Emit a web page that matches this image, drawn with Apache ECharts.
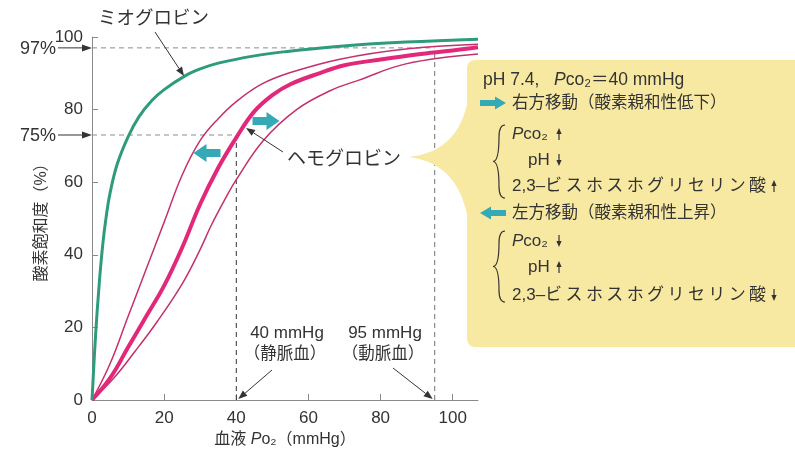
<!DOCTYPE html>
<html><head><meta charset="utf-8">
<script src="https://cdn.jsdelivr.net/npm/echarts@6/dist/echarts.min.js"></script>
<style>html,body{margin:0;padding:0;background:#fff}#c{width:795px;height:459px}</style>
</head><body><div id="c"></div>
<script>
// ---- data ----
const xTicks = [0, 20, 40, 60, 80, 100];
const yTicks = [0, 20, 40, 60, 80, 100];
const myoglobinPO2 = [0, 1, 2, 3, 4, 5, 7, 10, 13, 16.6, 20, 25.8, 30, 35, 45, 53, 68, 87, 107];
const myoglobinSat = [0, 18, 32, 43, 51, 57, 65, 72.5, 78, 82.5, 85.5, 89.3, 91.2, 92.8, 94.8, 95.9, 97.4, 98.6, 99.4];
const hemoglobinPO2 = [0, 5, 10, 15, 20, 25, 30, 35, 40, 45, 50, 55, 63, 70, 80, 90, 100, 107];
const hemoglobinSat = [0, 6, 14.5, 23, 31.5, 42, 54, 64, 72.3, 79.5, 84, 87, 90, 92.2, 93.8, 95.2, 96.3, 97.2];
const leftShiftPO2 = [0, 5, 10, 15, 20, 25, 30, 35, 40, 47, 55, 68.7, 87, 107];
const leftShiftSat = [0, 10, 23, 36, 49, 62, 71.5, 77.5, 82.2, 87, 90.2, 93.9, 96.7, 98];
const rightShiftPO2 = [0, 6, 12, 18, 25, 30, 33, 36.8, 40, 47.5, 56.7, 66, 74.2, 87, 107];
const rightShiftSat = [0, 6, 13.5, 21.5, 32, 41.5, 48, 55.2, 60.7, 71.5, 80, 85.2, 88.2, 92.6, 95.3];
const venous = { po2: 40, sat: 73, label: '75%', text1: '40 mmHg', text2: '（静脈血）' };
const arterial = { po2: 95, sat: 97, label: '97%', text1: '95 mmHg', text2: '（動脈血）' };
const xMax = 107;

const FONT = "'Liberation Sans','Noto Sans CJK JP',sans-serif";
const TXT = '#333';
const zip = (a, b) => a.map((v, i) => [v, b[i]]);

const chart = echarts.init(document.getElementById('c'));
const lineSeries = (name, xs, ys, color, width) => ({
  name, type: 'line', data: zip(xs, ys), symbol: 'none', smooth: 0.4,
  lineStyle: { color, width }, z: 3, silent: true
});
const refSeries = (pts, color) => ({
  type: 'line', data: pts, symbol: 'none', silent: true, z: 2,
  lineStyle: { color, width: 1, type: [5, 4] }
});

chart.setOption({
  animation: false,
  grid: { left: 92, right: 317, top: 37, bottom: 59 },
  xAxis: {
    type: 'value', min: 0, max: xMax, interval: 20,
    axisLine: { lineStyle: { color: '#8a8a8a', width: 1 } },
    axisTick: { show: true, inside: true, length: 6, customValues: xTicks, lineStyle: { color: '#8a8a8a' } },
    axisLabel: { customValues: xTicks, color: TXT, fontSize: 17, fontFamily: FONT, margin: 10 },
    splitLine: { show: false },
    name: '血液 {i|P}o₂（mmHg）', nameLocation: 'middle', nameGap: 31,
    nameTextStyle: { fontSize: 16, color: TXT, fontFamily: FONT,
      rich: { i: { fontStyle: 'italic', fontSize: 16, color: TXT, fontFamily: FONT } } }
  },
  yAxis: {
    type: 'value', min: 0, max: 100, interval: 20,
    axisLine: { show: true, lineStyle: { color: '#8a8a8a', width: 1 } },
    axisTick: { show: true, inside: true, length: 6, lineStyle: { color: '#8a8a8a' } },
    axisLabel: { color: TXT, fontSize: 17, fontFamily: FONT, margin: 9 },
    splitLine: { show: false },
    name: '酸素飽和度（%）', nameLocation: 'middle', nameGap: 42, nameRotate: 90,
    nameTextStyle: { fontSize: 16, color: TXT, fontFamily: FONT }
  },
  series: [
    refSeries([[0, arterial.sat], [arterial.po2, arterial.sat]], '#8c8c8c'),
    refSeries([[arterial.po2, 0], [arterial.po2, arterial.sat - 0.5]], '#707070'),
    refSeries([[0, venous.sat], [venous.po2, venous.sat]], '#8c8c8c'),
    refSeries([[venous.po2, 0], [venous.po2, venous.sat]], '#333'),
    lineSeries('右方移動', rightShiftPO2, rightShiftSat, '#c4306e', 1.5),
    lineSeries('左方移動', leftShiftPO2, leftShiftSat, '#c4306e', 1.5),
    lineSeries('ヘモグロビン', hemoglobinPO2, hemoglobinSat, '#e2287a', 4),
    lineSeries('ミオグロビン', myoglobinPO2, myoglobinSat, '#2e9c7c', 3)
  ]
});

// ---- annotations ----
const P = (x, y) => chart.convertToPixel({ gridIndex: 0 }, [x, y]);
const CYAN = '#35a9b5';
const G = [];
function arrowLine(x1, y1, x2, y2, color = '#333', w = 1, hl = 9, hw = 3.5) {
  const dx = x2 - x1, dy = y2 - y1, L = Math.hypot(dx, dy), ux = dx / L, uy = dy / L;
  const bx = x2 - ux * hl, by = y2 - uy * hl;
  G.push({ type: 'line', z: 20, shape: { x1, y1, x2: bx, y2: by }, style: { stroke: color, lineWidth: w } });
  G.push({ type: 'polygon', z: 20, shape: { points: [[x2, y2], [bx - uy * hw, by + ux * hw], [bx + uy * hw, by - ux * hw]] }, style: { fill: color } });
}
function blockArrow(cx, cy, dir, len, sw, hw, hl) {
  const tail = cx - dir * len / 2, tip = cx + dir * len / 2, base = tip - dir * hl;
  G.push({ type: 'polygon', z: 20, shape: { points: [
    [tail, cy - sw / 2], [base, cy - sw / 2], [base, cy - hw / 2], [tip, cy],
    [base, cy + hw / 2], [base, cy + sw / 2], [tail, cy + sw / 2]] }, style: { fill: CYAN } });
}
function text(x, y, t, opts = {}) {
  G.push({ type: 'text', z: 25, x, y, style: Object.assign({
    text: t, fontSize: 17, fontFamily: FONT, fill: TXT, align: 'left', verticalAlign: 'middle',
    rich: {
      i: { fontStyle: 'italic', fontSize: opts.fontSize || 17, fontFamily: FONT, fill: TXT }
    } }, opts) });
}
// small vertical arrow (up: dir=-1, down: dir=1)
function smallArrow(x, yc, dir) {
  const y1 = yc - dir * 6, y2 = yc + dir * 6;
  arrowLine(x, y1, x, y2, TXT, 1.2, 6, 2.6);
}

// y-level markers
const y97 = P(0, arterial.sat)[1], y75 = P(0, venous.sat)[1], x0 = P(0, 0)[0];
text(56, y97 + 1, arterial.label, { align: 'right', fontSize: 18 });
arrowLine(58, y97, x0, y97, '#333', 1, 10, 3.5);
text(56, y75 + 1, venous.label, { align: 'right', fontSize: 18 });
arrowLine(58, y75, x0, y75, '#333', 1, 10, 3.5);

// curve labels
text(98, 19, 'ミオグロビン', { fontSize: 18.5 });
arrowLine(155, 32, 184, 76, '#333', 1, 9, 3.5);
text(287, 160, 'ヘモグロビン', { fontSize: 19 });
arrowLine(283, 152, 246, 128, '#333', 1, 9, 3.5);

// shift arrows on the chart
blockArrow(266, 121, 1, 27, 8, 18, 13);
blockArrow(207, 153, -1, 27, 8, 18, 13);

// bottom annotations
const xv = P(venous.po2, 0), xa = P(arterial.po2, 0);
text(287, 333, venous.text1, { align: 'center' });
text(285, 354, venous.text2, { align: 'center', fontSize: 16.5 });
arrowLine(272, 370, xv[0] + 2, xv[1] - 1, '#333', 1, 9, 3.5);
text(385, 333, arterial.text1, { align: 'center' });
text(383, 354, arterial.text2, { align: 'center', fontSize: 16.5 });
arrowLine(393, 368, xa[0] - 2, xa[1] - 1, '#333', 1, 9, 3.5);

// callout box
const YEL = '#f8e9a2';
const pts = [];
const qb = (p0, c, p1, t) => [(1 - t) * (1 - t) * p0[0] + 2 * (1 - t) * t * c[0] + t * t * p1[0], (1 - t) * (1 - t) * p0[1] + 2 * (1 - t) * t * c[1] + t * t * p1[1]];
const tip = [408, 157];
for (let i = 0; i <= 20; i++) pts.push(qb(tip, [462, 152], [469, 92], i / 20));
pts.push([480, 92], [480, 228]);
for (let i = 0; i <= 20; i++) pts.push(qb([469, 228], [462, 163], tip, i / 20));
G.push({ type: 'polygon', z: 10, shape: { points: pts }, style: { fill: YEL } });
G.push({ type: 'rect', z: 10, shape: { x: 467, y: 60, width: 345, height: 287, r: 8 }, style: { fill: YEL } });

const TS = '\u2009';
const bpg = '2,3–' + 'ビスホスホグリセリン酸'.split('').join(TS);
text(483, 80, 'pH 7.4,   {i|P}co₂＝40 mmHg', { fontSize: 17.5 });
blockArrow(493, 103, 1, 26, 6, 13, 11);
text(512, 103, '右方移動（酸素親和性低下）', { fontSize: 16.5 });
text(512, 134, '{i|P}co₂');
smallArrow(559, 134, -1);
text(528, 160, 'pH');
smallArrow(559, 160, 1);
text(512, 186, bpg);
smallArrow(774, 186, -1);
blockArrow(493, 213, -1, 26, 6, 13, 11);
text(512, 213, '左方移動（酸素親和性上昇）', { fontSize: 16.5 });
text(512, 241, '{i|P}co₂');
smallArrow(559, 241, 1);
text(528, 267, 'pH');
smallArrow(559, 267, -1);
text(512, 295, bpg);
smallArrow(774, 295, 1);

function brace(xt, xe, yt, yb) {
  const ym = (yt + yb) / 2, xs = (xt + xe) / 2;
  const segs = [
    [xe, yt, xs, yt + 12, xs + 1, yt, xs, yt + 5],
    [xs, yt + 12, xt, ym, xs, ym - 8, xs - 2, ym],
    [xt, ym, xs, yb - 12, xs - 2, ym, xs, ym + 8],
    [xs, yb - 12, xe, yb, xs, yb - 5, xs + 1, yb]
  ];
  segs.forEach(s => G.push({ type: 'bezierCurve', z: 20,
    shape: { x1: s[0], y1: s[1], x2: s[2], y2: s[3], cpx1: s[4], cpy1: s[5], cpx2: s[6], cpy2: s[7] },
    style: { stroke: TXT, lineWidth: 1.2, fill: null } }));
}
brace(493, 505, 125, 198);
brace(493, 505, 231, 302);

chart.setOption({ graphic: G });
</script></body></html>
